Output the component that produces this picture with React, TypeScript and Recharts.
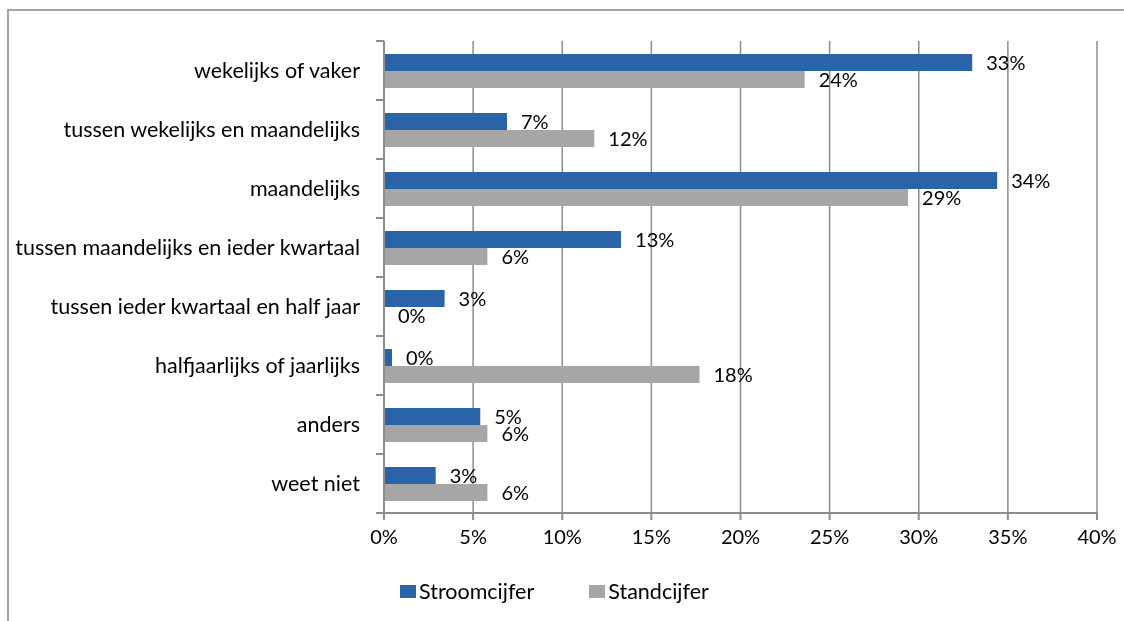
import React from 'react';
import { BarChart, Bar, XAxis, YAxis, CartesianGrid, LabelList } from 'recharts';

const categories = [
  'wekelijks of vaker',
  'tussen wekelijks en maandelijks',
  'maandelijks',
  'tussen maandelijks en ieder kwartaal',
  'tussen ieder kwartaal en half jaar',
  'halfjaarlijks of jaarlijks',
  'anders',
  'weet niet',
];
const stroomcijfer = [33.0, 6.9, 34.4, 13.3, 3.4, 0.45, 5.4, 2.9];
const standcijfer = [23.6, 11.8, 29.4, 5.8, 0, 17.7, 5.8, 5.8];
const xTicks = [0, 5, 10, 15, 20, 25, 30, 35, 40];

const seriesNames = ['Stroomcijfer', 'Standcijfer'];
const seriesColors = ['#2B63A9', '#A6A6A6'];

const data = categories.map((c, i) => ({
  name: c,
  stroom: stroomcijfer[i],
  stand: standcijfer[i],
}));

const FONT = 'Lato, "DejaVu Sans", sans-serif';
const AXIS_GRAY = '#8c8c8c';
const fmt = (v: any) => `${Math.round(Number(v))}%`;

const CategoryTick = (props: any) => {
  const { x, y, payload, index, visibleTicksCount } = props;
  const half = payload && payload.offset ? payload.offset : 0;
  const last = index === (visibleTicksCount ?? categories.length) - 1;
  return (
    <g>
      <line x1={x - 8} x2={x} y1={y - half} y2={y - half} stroke={AXIS_GRAY} strokeWidth={2} />
      {last && <line x1={x - 8} x2={x} y1={y + half} y2={y + half} stroke={AXIS_GRAY} strokeWidth={2} />}
      <text x={x - 24} y={y} dy="0.355em" textAnchor="end" fill="#000" fontSize={21.5} fontFamily={FONT}>
        {payload.value}
      </text>
    </g>
  );
};

export default function App() {
  return (
    <div style={{ fontFamily: FONT }}>
      <div
        style={{
          position: 'fixed',
          left: 7,
          top: 9,
          width: 1117,
          height: 612,
          borderTop: '2px solid #a3a3a3',
          borderLeft: '2px solid #a3a3a3',
          boxSizing: 'border-box',
        }}
      />
      <div style={{ position: 'fixed', left: 0, top: 0 }}>
        <BarChart
          width={1124}
          height={621}
          data={data}
          layout="vertical"
          margin={{ top: 41, right: 27, bottom: 78, left: 0 }}
          barGap={0}
          barSize={17}
        >
          <CartesianGrid horizontal={false} vertical stroke={AXIS_GRAY} strokeWidth={1.5} />
          <XAxis
            type="number"
            domain={[0, 40]}
            ticks={xTicks}
            interval={0}
            tickFormatter={(v) => `${v}%`}
            height={30}
            tickSize={7}
            tickMargin={10}
            axisLine={{ stroke: AXIS_GRAY, strokeWidth: 2 }}
            tickLine={{ stroke: AXIS_GRAY, strokeWidth: 2 }}
            tick={{ fill: '#000', fontSize: 20, fontFamily: FONT }}
          />
          <YAxis
            type="category"
            dataKey="name"
            width={384}
            interval={0}
            tickLine={false}
            axisLine={{ stroke: AXIS_GRAY, strokeWidth: 2 }}
            tickSize={0}
            tickMargin={0}
            tick={<CategoryTick />}
          />
          <Bar dataKey="stroom" name={seriesNames[0]} fill={seriesColors[0]} isAnimationActive={false}>
            <LabelList dataKey="stroom" position="right" offset={14} formatter={fmt} fill="#000" fontSize={20} fontFamily={FONT} />
          </Bar>
          <Bar dataKey="stand" name={seriesNames[1]} fill={seriesColors[1]} minPointSize={0.01} isAnimationActive={false}>
            <LabelList dataKey="stand" position="right" offset={14} formatter={fmt} fill="#000" fontSize={20} fontFamily={FONT} />
          </Bar>
        </BarChart>
      </div>
      <div
        style={{
          position: 'fixed',
          left: 400,
          top: 578,
          display: 'flex',
          alignItems: 'center',
          fontSize: 21.5,
          color: '#000',
          fontFamily: FONT,
        }}
      >
        {seriesNames.map((n, i) => (
          <div key={n} style={{ display: 'flex', alignItems: 'center', marginRight: i === 0 ? 55 : 0 }}>
            <span style={{ display: 'inline-block', width: 16, height: 13, background: seriesColors[i], marginRight: 3 }} />
            <span>{n}</span>
          </div>
        ))}
      </div>
    </div>
  );
}
